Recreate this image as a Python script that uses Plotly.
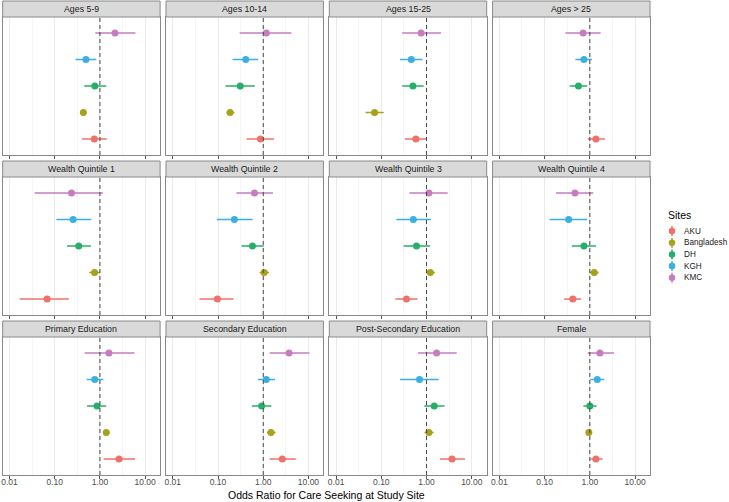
import plotly.graph_objects as go

# ---------------- data ----------------
facets = ["Ages 5-9", "Ages 10-14", "Ages 15-25", "Ages > 25",
          "Wealth Quintile 1", "Wealth Quintile 2", "Wealth Quintile 3", "Wealth Quintile 4",
          "Primary Education", "Secondary Education", "Post-Secondary Education", "Female"]
sites = ["AKU", "Bangladesh", "DH", "KGH", "KMC"]
site_colors = ["#F0706A", "#A8A21A", "#27AE6A", "#3AAFE6", "#C77CBF"]

aku_or = [0.75, 0.87, 0.58, 1.36, 0.068, 0.097, 0.36, 0.42, 2.64, 2.64, 3.66, 1.36]
aku_lo = [0.40, 0.43, 0.33, 0.90, 0.0167, 0.039, 0.205, 0.27, 1.21, 1.38, 1.98, 1.03]
aku_hi = [1.41, 1.73, 1.02, 2.15, 0.205, 0.22, 0.63, 0.64, 6.0, 5.23, 7.11, 1.91]

bgd_or = [0.43, 0.185, 0.071, None, 0.76, 1.05, 1.21, 1.25, 1.38, 1.48, 1.13, 0.95]
bgd_lo = [0.38, 0.153, 0.045, None, 0.58, 0.83, 0.98, 1.0, 1.19, 1.21, 0.90, 0.87]
bgd_hi = [0.50, 0.23, 0.113, None, 1.0, 1.34, 1.53, 1.56, 1.61, 1.88, 1.43, 1.03]

dh_or = [0.77, 0.31, 0.50, 0.56, 0.34, 0.58, 0.60, 0.74, 0.86, 0.92, 1.48, 1.0]
dh_lo = [0.45, 0.146, 0.29, 0.36, 0.188, 0.33, 0.31, 0.40, 0.52, 0.56, 0.89, 0.72]
dh_hi = [1.38, 0.65, 0.86, 0.87, 0.63, 1.02, 1.19, 1.36, 1.38, 1.51, 2.51, 1.41]

kgh_or = [0.49, 0.41, 0.46, 0.74, 0.255, 0.23, 0.51, 0.34, 0.77, 1.17, 0.70, 1.46]
kgh_lo = [0.29, 0.21, 0.26, 0.48, 0.109, 0.095, 0.215, 0.129, 0.51, 0.76, 0.26, 1.03]
kgh_hi = [0.83, 0.77, 0.81, 1.11, 0.64, 0.58, 1.25, 0.87, 1.19, 1.82, 1.85, 2.08]

kmc_or = [2.15, 1.17, 0.76, 0.71, 0.235, 0.64, 1.13, 0.47, 1.58, 3.72, 1.67, 1.67]
kmc_lo = [0.79, 0.30, 0.29, 0.29, 0.036, 0.255, 0.42, 0.179, 0.46, 1.38, 0.65, 0.90]
kmc_hi = [6.1, 4.19, 2.08, 1.73, 1.17, 1.64, 2.93, 1.19, 5.8, 10.5, 4.64, 3.42]

x_tickvals = [0.01, 0.1, 1, 10]
x_ticktext = ["0.01", "0.10", "1.00", "10.00"]
x_minor = [0.0316, 0.316, 3.16]

site_data = {
    "AKU": (aku_or, aku_lo, aku_hi),
    "Bangladesh": (bgd_or, bgd_lo, bgd_hi),
    "DH": (dh_or, dh_lo, dh_hi),
    "KGH": (kgh_or, kgh_lo, kgh_hi),
    "KMC": (kmc_or, kmc_lo, kmc_hi),
}

# ---------------- layout geometry (pixels) ----------------
W, H = 729, 502
col_left = [2.7, 166.0, 329.3, 492.6]
panel_w = 157.4
panel_top = [17.0, 177.0, 337.0]
panel_h = 138.0
strip_h = 16.0
FONT = "Liberation Sans, Arial, sans-serif"
BORDER = "#8A8A8A"


def px_x(x):
    return x / W


def px_y(y):
    return 1 - y / H


fig = go.Figure()
layout = dict(
    width=W, height=H,
    margin=dict(l=0, r=0, t=0, b=0),
    paper_bgcolor="white", plot_bgcolor="rgba(0,0,0,0)",
    showlegend=False,
    font=dict(family=FONT, size=9, color="#222222"),
)
shapes = []
annotations = []

for i, facet in enumerate(facets):
    r, c = divmod(i, 4)
    n = i + 1
    xa = "xaxis" if n == 1 else f"xaxis{n}"
    ya = "yaxis" if n == 1 else f"yaxis{n}"
    xref = "x" if n == 1 else f"x{n}"
    yref = "y" if n == 1 else f"y{n}"
    x0 = col_left[c]
    y0 = panel_top[r]
    layout[xa] = dict(
        domain=[px_x(x0), px_x(x0 + panel_w)],
        anchor=yref, type="log", range=[-2.15, 1.33],
        tickmode="array", tickvals=x_tickvals, ticktext=x_ticktext,
        showticklabels=(r == 2), ticks="outside", ticklen=3, tickcolor="#555555",
        ticklabelstandoff=-4,
        tickfont=dict(size=8.5, color="#4D4D4D", family=FONT),
        showgrid=True, gridcolor="#EBEBEB", gridwidth=1,
        minor=dict(tickvals=x_minor, showgrid=True, gridcolor="#F5F5F5", gridwidth=0.6, ticks=""),
        showline=True, mirror=True, linecolor=BORDER, linewidth=1,
        zeroline=False, fixedrange=True,
    )
    layout[ya] = dict(
        domain=[px_y(y0 + panel_h), px_y(y0)],
        anchor=xref, range=[0.4, 5.6],
        showticklabels=False, ticks="", showgrid=False, zeroline=False,
        showline=True, mirror=True, linecolor=BORDER, linewidth=1, fixedrange=True,
    )
    # strip
    shapes.append(dict(type="rect", xref="paper", yref="paper",
                       x0=px_x(x0), x1=px_x(x0 + panel_w),
                       y0=px_y(y0), y1=px_y(y0 - strip_h),
                       fillcolor="#D9D9D9", line=dict(color=BORDER, width=1), layer="above"))
    annotations.append(dict(text=facet, xref="paper", yref="paper",
                            x=px_x(x0 + panel_w / 2), y=px_y(y0 - strip_h / 2),
                            xanchor="center", yanchor="middle", showarrow=False,
                            font=dict(size=8.8, color="#1A1A1A", family=FONT)))
    # reference line at OR = 1
    shapes.append(dict(type="line", xref=xref, yref=f"{yref} domain",
                       x0=1, x1=1, y0=0, y1=1,
                       line=dict(color="#444444", width=1, dash="4px,3px"), layer="above"))

    for k, s in enumerate(sites):
        o, lo, hi = site_data[s]
        if o[i] is None:
            continue
        fig.add_trace(go.Scatter(
            x=[o[i]], y=[k + 1], xaxis=xref, yaxis=yref,
            mode="markers",
            marker=dict(color=site_colors[k], size=7, line=dict(width=0)),
            error_x=dict(type="data", symmetric=False,
                         array=[hi[i] - o[i]], arrayminus=[o[i] - lo[i]],
                         color=site_colors[k], thickness=1.5, width=0),
            name=s, hoverinfo="x+name",
        ))

# axis title
annotations.append(dict(text="Odds Ratio for Care Seeking at Study Site",
                        xref="paper", yref="paper", x=px_x(326), y=px_y(495),
                        xanchor="center", yanchor="middle", showarrow=False,
                        font=dict(size=10.5, color="#000000", family=FONT)))

# legend (custom, ggplot-like compact key)
leg_x_key = 672
leg_x_text = 682
leg_y0 = 231
leg_dy = 11.7
annotations.append(dict(text="Sites", xref="paper", yref="paper",
                        x=px_x(666), y=px_y(215), xanchor="left", yanchor="middle",
                        showarrow=False, font=dict(size=10.5, color="#000000", family=FONT)))
n_leg = len(facets) + 1
layout[f"xaxis{n_leg}"] = dict(domain=[0, 1], range=[0, W], visible=False, fixedrange=True,
                              anchor=f"y{n_leg}")
layout[f"yaxis{n_leg}"] = dict(domain=[0, 1], range=[H, 0], visible=False, fixedrange=True,
                              anchor=f"x{n_leg}")
for k, s in enumerate(sites):
    yk = leg_y0 + k * leg_dy
    fig.add_trace(go.Scatter(
        x=[leg_x_key], y=[yk], xaxis=f"x{n_leg}", yaxis=f"y{n_leg}",
        mode="markers", marker=dict(color=site_colors[k], size=6.5),
        error_y=dict(type="constant", value=5, color=site_colors[k], thickness=1.5, width=0),
        hoverinfo="skip",
    ))
    annotations.append(dict(text=s, xref="paper", yref="paper",
                            x=px_x(leg_x_text), y=px_y(yk), xanchor="left", yanchor="middle",
                            showarrow=False, font=dict(size=8.2, color="#1A1A1A", family=FONT)))

layout["shapes"] = shapes
layout["annotations"] = annotations
fig.update_layout(**layout)
fig.write_html("out.html", config={"displayModeBar": False},
               post_script="document.body.style.margin='0';document.body.style.padding='0';")
